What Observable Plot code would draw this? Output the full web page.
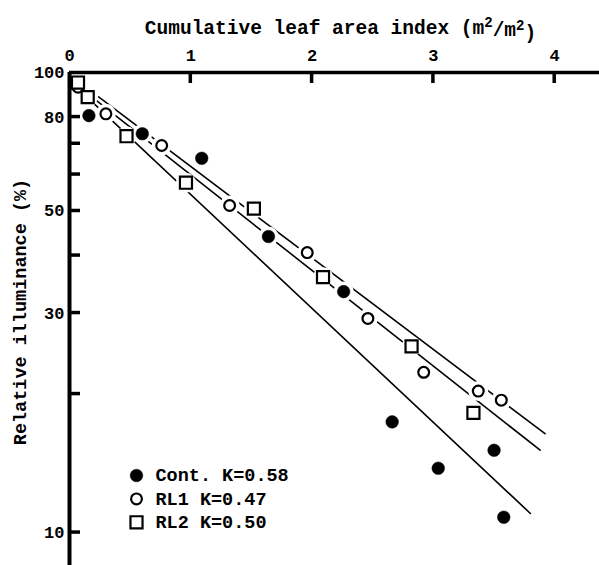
<!DOCTYPE html>
<html><head><meta charset="utf-8">
<script src="https://cdn.jsdelivr.net/npm/d3@7"></script>
<script src="https://cdn.jsdelivr.net/npm/@observablehq/plot@0.6"></script>
<style>body{margin:0;background:#fff} svg{display:block}</style>
</head><body><div id="chart"></div>
<script>
// Observed points: cumulative LAI (m2/m2) vs relative illuminance (%)
const contLAI = [0.16, 0.60, 1.09, 1.64, 2.26, 2.66, 3.04, 3.50, 3.58];
const contRI  = [80.6, 73.6, 65.1, 44.0, 33.4, 17.4, 13.8, 15.1, 10.8];
const rl1LAI  = [0.07, 0.30, 0.76, 1.32, 1.96, 2.46, 2.92, 3.37, 3.56];
const rl1RI   = [92.9, 81.3, 69.4, 51.4, 40.6, 29.2, 22.3, 20.3, 19.4];
const rl2LAI  = [0.07, 0.15, 0.47, 0.96, 1.52, 2.09, 2.82, 3.33];
const rl2RI   = [95.1, 88.4, 72.7, 57.6, 50.6, 35.9, 25.4, 18.2];

// Fitted lines (start / end)
const fitSeries = ["Cont.", "RL1", "RL2"];
const fitLAI = [[0.09, 3.80], [0.24, 3.92], [0.21, 3.88]];
const fitRI  = [[91.2, 11.0], [88.5, 16.4], [87.4, 15.1]];

// Axes
const xTicks = [0, 1, 2, 3, 4];
const yTicks = [100, 80, 70, 60, 50, 40, 30, 20, 10];
const yTickLabels = [100, 80, 50, 30, 10];
const xTitle = "Cumulative leaf area index (m2/m2)";
const yTitle = "Relative illuminance (%)";

// Legend
const legendSeries = ["Cont.", "RL1", "RL2"];
const legendLabels = ["Cont. K=0.58", "RL1 K=0.47", "RL2 K=0.50"];

const W = 599, H = 565, mL = 69, mT = 72;
const plotW = W - mL, plotH = H - mT;
const xMax = plotW / 121.3;
const yTop = 100, yBottom = 8.48;
const FONT = "Liberation Mono, DejaVu Sans Mono, monospace";
const tickLen = 11;

const style = {
  "Cont.": {symbol: "circle", fill: "black", stroke: "black", r: 6.3, sw: 0.5},
  "RL1":   {symbol: "circle", fill: "white", stroke: "black", r: 5.4, sw: 2.2},
  "RL2":   {symbol: "square", fill: "white", stroke: "black", r: 6.8, sw: 2.2}
};

const points = [
  ...contLAI.map((x, i) => ({series: "Cont.", lai: x, ri: contRI[i]})),
  ...rl1LAI.map((x, i) => ({series: "RL1", lai: x, ri: rl1RI[i]})),
  ...rl2LAI.map((x, i) => ({series: "RL2", lai: x, ri: rl2RI[i]}))
];
const fitRows = fitSeries.flatMap((s, i) => fitLAI[i].map((x, j) => ({series: s, lai: x, ri: fitRI[i][j]})));

const markerMarks = legendSeries.map(s => Plot.dot(points.filter(d => d.series === s), {
  x: "lai", y: "ri", r: style[s].r, symbol: style[s].symbol,
  fill: style[s].fill, stroke: style[s].stroke, strokeWidth: style[s].sw
}));

const legendMarks = legendSeries.flatMap((s, i) => [
  Plot.dot([s], {frameAnchor: "bottom-left", dx: 67, dy: -90 + i * 23.4,
    r: style[s].r, symbol: style[s].symbol, fill: style[s].fill, stroke: style[s].stroke, strokeWidth: style[s].sw}),
  Plot.text([legendLabels[i]], {frameAnchor: "bottom-left", dx: 86, dy: -90 + i * 23.4,
    text: d => d, textAnchor: "start", lineAnchor: "middle", fontSize: 18.5, fontWeight: "bold", fill: "black"})
]);

const chart = Plot.plot({
  width: W, height: H,
  marginLeft: mL, marginTop: mT, marginRight: 0, marginBottom: 0,
  style: {fontFamily: FONT, background: "white", overflow: "visible"},
  x: {domain: [0, xMax], axis: null},
  y: {type: "log", domain: [yBottom, yTop], axis: null},
  marks: [
    Plot.line(fitRows, {x: "lai", y: "ri", z: "series", stroke: "black", strokeWidth: 1.6}),
    Plot.dot(points, {x: "lai", y: "ri", r: 10, fill: "white"}),
    Plot.ruleY([yTop], {stroke: "black", strokeWidth: 3.5}),
    Plot.ruleX([0], {stroke: "black", strokeWidth: 4}),
    Plot.axisX(xTicks, {anchor: "top", tickSize: 0, tickPadding: 12, label: null,
      fontSize: 17, fontWeight: "bold", tickFormat: d => String(d)}),
    Plot.axisY(yTickLabels, {anchor: "left", tickSize: 0, tickPadding: 5, label: null,
      fontSize: 17, fontWeight: "bold", tickFormat: d => String(d)}),
    Plot.text([xTitle], {frameAnchor: "top", dy: -45, dx: 6, text: d => d,
      textAnchor: "middle", lineAnchor: "middle",
      fontSize: 19.5, fontWeight: "bold", className: "xtitle"}),
    Plot.text([yTitle], {frameAnchor: "left", dx: -49, dy: -7, rotate: -90, text: d => d,
      textAnchor: "middle", lineAnchor: "middle",
      fontSize: 18.5, fontWeight: "bold"}),
    ...markerMarks,
    ...legendMarks
  ]
});

// inward tick marks, positioned through the plot's own scales
const xs = chart.scale("x"), ys = chart.scale("y");
const xPos = d3.scaleLinear().domain(xs.domain).range(xs.range);
const yPos = d3.scaleLog().domain(ys.domain).range(ys.range);
const tg = d3.select(chart).append("g").attr("stroke", "black").attr("stroke-width", 3.5);
tg.selectAll("line.xt").data(xTicks.slice(1)).join("line").attr("class", "xt")
  .attr("x1", d => xPos(d)).attr("x2", d => xPos(d))
  .attr("y1", mT).attr("y2", mT + tickLen);
tg.selectAll("line.yt").data(yTicks.slice(1)).join("line").attr("class", "yt")
  .attr("y1", d => yPos(d)).attr("y2", d => yPos(d))
  .attr("x1", mL).attr("x2", mL + tickLen);

// superscripts in the x title
d3.select(chart).selectAll("g.xtitle text").each(function () {
  const t = d3.select(this);
  t.text(null);
  t.append("tspan").text("Cumulative leaf area index (m");
  t.append("tspan").attr("dy", "-0.45em").attr("font-size", "14").text("2");
  t.append("tspan").attr("dy", "0.45em").text("/m");
  t.append("tspan").attr("dy", "-0.45em").attr("font-size", "14").text("2");
  t.append("tspan").attr("dy", "0.45em").text(")");
});

document.getElementById("chart").appendChild(chart);
</script>
</body></html>
